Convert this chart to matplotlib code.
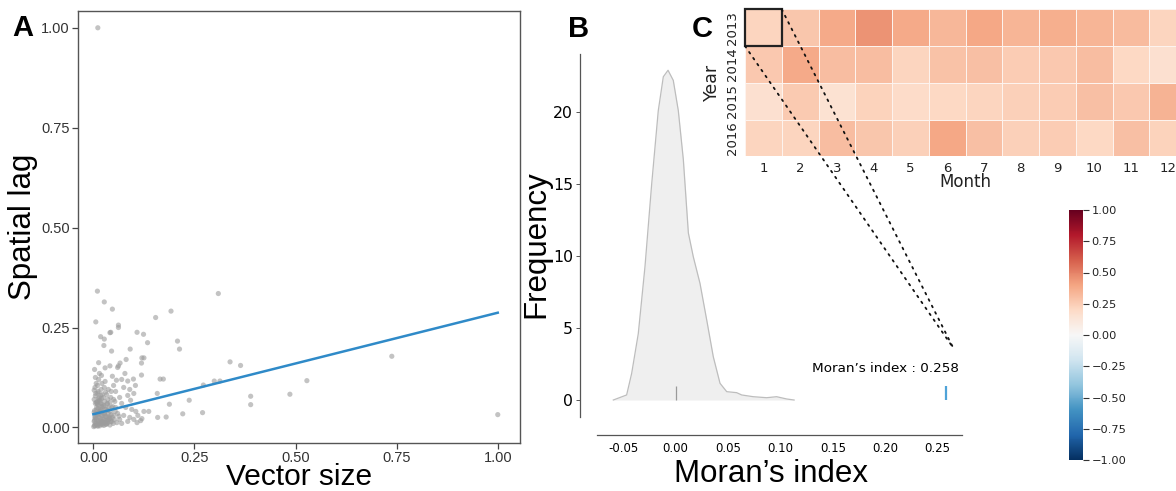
import numpy as np
import matplotlib
matplotlib.use("Agg")
import matplotlib.pyplot as plt
from matplotlib.patches import Rectangle, ConnectionPatch

plt.rcParams['font.family'] = ['DejaVu Sans']

# ---------------- Panel A data ----------------
scatter_x = [
    0.011, 0.010, 0.309, 0.027, 0.047, 0.192, 0.154, 0.006, 0.062, 0.062, 0.041, 0.043, 0.108, 0.124,
    0.018, 0.027, 0.208, 0.134, 0.026, 0.213, 0.091, 0.045, 0.013, 0.081, 0.066, 0.120, 0.125, 0.119,
    0.062, 0.060, 0.041, 0.029, 0.003, 0.738, 0.338, 0.364, 0.119, 0.165, 0.173, 0.299, 0.313, 0.528,
    0.272, 0.099, 0.085, 0.104, 0.158, 0.486, 0.389, 0.389, 0.237, 0.188, 0.270, 0.221, 0.159, 0.180,
    1.000, 0.125, 0.137, 0.117,
    0.070, 0.075, 0.090, 0.100, 0.085, 0.065, 0.055, 0.050, 0.070, 0.080, 0.095, 0.105, 0.110, 0.090,
    0.075, 0.060, 0.055, 0.100, 0.085, 0.065, 0.120, 0.108, 0.070, 0.050, 0.057, 0.078, 0.092, 0.047,
    0.003, 0.005, 0.002, 0.007, 0.004, 0.006, 0.003, 0.008, 0.005, 0.002, 0.006, 0.004, 0.007, 0.005,
    0.011, 0.013, 0.012, 0.014, 0.010, 0.015, 0.012, 0.013, 0.011, 0.014, 0.012, 0.010, 0.013, 0.015,
    0.019, 0.021, 0.018, 0.022, 0.020, 0.019, 0.021, 0.018, 0.020, 0.022, 0.019, 0.021, 0.020,
    0.026, 0.028, 0.025, 0.030, 0.027, 0.029, 0.026, 0.028, 0.025, 0.030, 0.027, 0.029,
    0.034, 0.036, 0.033, 0.037, 0.035, 0.038, 0.034, 0.036, 0.033, 0.037,
    0.041, 0.043, 0.040, 0.044, 0.042, 0.045, 0.041, 0.043, 0.044,
    0.049, 0.052, 0.050, 0.054, 0.048, 0.053,
    0.001, 0.004, 0.009, 0.016, 0.023, 0.003, 0.008, 0.014, 0.024, 0.031, 0.006, 0.017, 0.012, 0.027,
    0.002, 0.010, 0.021, 0.035, 0.046, 0.058, 0.063, 0.039, 0.032, 0.015,
    0.004, 0.009, 0.016, 0.022, 0.031, 0.038, 0.007, 0.013, 0.019, 0.028, 0.035, 0.042, 0.005, 0.011,
    0.017, 0.024, 0.032, 0.002, 0.008, 0.015, 0.021, 0.027, 0.036, 0.047, 0.012, 0.025, 0.018, 0.009,
]
scatter_y = [
    1.000, 0.341, 0.335, 0.314, 0.296, 0.291, 0.275, 0.264, 0.256, 0.250, 0.237, 0.238, 0.238, 0.233,
    0.227, 0.221, 0.216, 0.212, 0.205, 0.196, 0.196, 0.191, 0.162, 0.170, 0.161, 0.174, 0.174, 0.161,
    0.154, 0.150, 0.154, 0.149, 0.145, 0.178, 0.164, 0.155, 0.131, 0.121, 0.121, 0.116, 0.116, 0.117,
    0.106, 0.121, 0.116, 0.105, 0.085, 0.083, 0.078, 0.057, 0.068, 0.058, 0.037, 0.034, 0.025, 0.026,
    0.032, 0.040, 0.040, 0.017,
    0.120, 0.100, 0.095, 0.085, 0.080, 0.075, 0.090, 0.105, 0.060, 0.050, 0.045, 0.040, 0.030, 0.025,
    0.030, 0.035, 0.050, 0.020, 0.015, 0.020, 0.022, 0.012, 0.010, 0.070, 0.118, 0.135, 0.068, 0.128,
    0.005, 0.010, 0.015, 0.020, 0.028, 0.035, 0.042, 0.050, 0.060, 0.070, 0.085, 0.100, 0.110, 0.125,
    0.003, 0.012, 0.018, 0.025, 0.030, 0.040, 0.048, 0.055, 0.065, 0.075, 0.090, 0.105, 0.120, 0.135,
    0.008, 0.015, 0.022, 0.030, 0.038, 0.045, 0.052, 0.060, 0.072, 0.082, 0.095, 0.110, 0.130,
    0.005, 0.012, 0.020, 0.028, 0.035, 0.045, 0.055, 0.065, 0.075, 0.088, 0.100, 0.115,
    0.010, 0.018, 0.026, 0.034, 0.042, 0.050, 0.060, 0.070, 0.082, 0.095,
    0.006, 0.015, 0.024, 0.032, 0.040, 0.050, 0.062, 0.075, 0.090,
    0.010, 0.020, 0.030, 0.040, 0.052, 0.065,
    0.002, 0.004, 0.006, 0.004, 0.007, 0.018, 0.009, 0.011, 0.013, 0.008, 0.024, 0.016, 0.033, 0.017,
    0.038, 0.058, 0.027, 0.012, 0.015, 0.012, 0.028, 0.022, 0.046, 0.068,
    0.024, 0.033, 0.041, 0.057, 0.019, 0.027, 0.063, 0.072, 0.044, 0.036, 0.058, 0.021, 0.079, 0.086,
    0.066, 0.014, 0.008, 0.093, 0.044, 0.037, 0.009, 0.031, 0.017, 0.025, 0.006, 0.052, 0.081, 0.062,
]
fit_x = [0.0, 1.0]
fit_y = [0.033, 0.287]

# ---------------- Panel B data ----------------
kde_x = [-0.0595, -0.0468, -0.042, -0.0357, -0.0293, -0.0229, -0.0166, -0.0118, -0.0073, -0.0023,
         0.0025, 0.0073, 0.0121, 0.0168, 0.0232, 0.0296, 0.0359, 0.0423, 0.0487, 0.0582, 0.063,
         0.074, 0.0868, 0.0963, 0.106, 0.113]
kde_y = [0.0, 0.35, 1.85, 4.6, 9.26, 15.0, 20.1, 22.45, 22.9, 22.2,
         20.1, 16.7, 11.6, 9.95, 8.1, 5.56, 3.0, 1.16, 0.58, 0.51, 0.35,
         0.23, 0.16, 0.23, 0.07, 0.0]
null_mean = 0.0
observed_moran = 0.258
b_xticks = [-0.05, 0.00, 0.05, 0.10, 0.15, 0.20, 0.25]
b_yticks = [0, 5, 10, 15, 20]

# ---------------- Panel C data ----------------
years = ['2013', '2014', '2015', '2016']
months = [str(m) for m in range(1, 13)]
moran_monthly = np.array([
    [0.22, 0.28, 0.38, 0.45, 0.38, 0.33, 0.39, 0.34, 0.36, 0.34, 0.32, 0.22],
    [0.27, 0.38, 0.31, 0.31, 0.22, 0.29, 0.30, 0.25, 0.27, 0.31, 0.21, 0.16],
    [0.16, 0.26, 0.15, 0.23, 0.19, 0.21, 0.22, 0.24, 0.25, 0.30, 0.27, 0.35],
    [0.22, 0.22, 0.31, 0.28, 0.24, 0.39, 0.30, 0.24, 0.25, 0.21, 0.30, 0.23],
])
cbar_ticks = [-1.0, -0.75, -0.5, -0.25, 0.0, 0.25, 0.5, 0.75, 1.0]

W, H = 1176, 491
fig = plt.figure(figsize=(W / 100, H / 100), dpi=100)

def fx(px):
    return px / W

def fy(py):
    return 1 - py / H

# ---------------- Panel A ----------------
axA = fig.add_axes([fx(78), fy(443), fx(520) - fx(78), fy(11) - fy(443)])
axA.scatter(scatter_x, scatter_y, s=14, color='#9c9c9c', alpha=0.6, edgecolors='none')
axA.plot(fit_x, fit_y, color='#2f8ac8', lw=1.8)
axA.set_xlim(-0.038, 1.055)
axA.set_ylim(-0.039, 1.042)
axA.set_xticks([0, 0.25, 0.5, 0.75, 1.0])
axA.set_yticks([0, 0.25, 0.5, 0.75, 1.0])
axA.set_xticklabels(['0.00', '0.25', '0.50', '0.75', '1.00'])
axA.set_yticklabels(['0.00', '0.25', '0.50', '0.75', '1.00'])
for s in axA.spines.values():
    s.set_color('#555555')
    s.set_linewidth(1.0)
axA.tick_params(length=4, width=0.9, color='#444444', labelcolor='#333333', labelsize=10.5, pad=2)
for lab in axA.get_xticklabels() + axA.get_yticklabels():
    lab.set_family('Liberation Sans')
axA.set_xlabel('Vector size', fontsize=21.5, family='Liberation Sans', labelpad=-1.5)
axA.set_ylabel('Spatial lag', fontsize=22.5, family='Liberation Sans', labelpad=2)

# ---------------- Panel B ----------------
axB = fig.add_axes([fx(580), fy(435), fx(962) - fx(580), fy(54) - fy(435)])
axB.fill_between(kde_x, kde_y, 0, color='#efefef', lw=0)
axB.plot(kde_x, kde_y, color='#bdbdbd', lw=0.9)
axB.vlines(null_mean, 0, 0.97, color='#9a9a9a', lw=0.9)
axB.vlines(observed_moran, 0, 1.0, color='#4fa3d8', lw=1.6)
axB.text(0.2, 2.2, 'Moran\u2019s index : 0.258', ha='center', va='center', fontsize=9.7)
axB.set_xlim(-0.0913, 0.2732)
axB.set_ylim(-2.43, 24.03)
axB.spines['top'].set_visible(False)
axB.spines['right'].set_visible(False)
axB.spines['left'].set_bounds(-1.18, 24.03)
axB.spines['bottom'].set_bounds(-0.075, 0.2732)
for s in ('left', 'bottom'):
    axB.spines[s].set_color('#555555')
    axB.spines[s].set_linewidth(0.9)
axB.set_xticks(b_xticks)
axB.set_xticklabels(['-0.05', '0.00', '0.05', '0.10', '0.15', '0.20', '0.25'])
axB.set_yticks(b_yticks)
axB.tick_params(axis='y', length=3, width=0.7, color='#555555', labelsize=11.3, pad=2)
axB.tick_params(axis='x', length=0, labelsize=8.5, pad=5)
axB.set_xlabel('Moran\u2019s index', fontsize=22.5, family='Liberation Sans', labelpad=3)
axB.set_ylabel('Frequency', fontsize=22.5, family='Liberation Sans', labelpad=1)
axB.patch.set_alpha(0)

# ---------------- Panel C ----------------
cell = 36.75
axC = fig.add_axes([fx(745), fy(9.3 + 4 * cell), fx(745 + 12 * cell) - fx(745),
                    fy(9.3) - fy(9.3 + 4 * cell)])
mesh = axC.pcolormesh(np.arange(13), np.arange(5), moran_monthly, cmap='RdBu_r',
                      vmin=-1, vmax=1, edgecolors='#fdf3ee', linewidth=0.6)
axC.set_xlim(0, 12)
axC.set_ylim(4, 0)
axC.set_xticks(np.arange(12) + 0.5)
axC.set_xticklabels(months)
axC.set_yticks(np.arange(4) + 0.5)
axC.set_yticklabels(years, rotation=90, va='center')
axC.tick_params(length=0, labelsize=9.5, pad=4, labelcolor='#222222')
for s in axC.spines.values():
    s.set_visible(False)
axC.set_xlabel('Month', fontsize=12, labelpad=-1, color='#222222')
axC.set_ylabel('Year', fontsize=12.5, labelpad=4, color='#222222')
axC.add_patch(Rectangle((0, 0), 1, 1, fill=False, ec='#222222', lw=1.6, clip_on=False, zorder=5))

# connector lines
for corner in [(1, 0), (0, 1)]:
    con = ConnectionPatch(xyA=corner, coordsA=axC.transData,
                          xyB=(0.265, 3.6), coordsB=axB.transData,
                          color='#111111', lw=1.3, ls=(0, (1, 3)))
    fig.add_artist(con)

# colorbar
cax = fig.add_axes([fx(1069), fy(460), fx(1083) - fx(1069), fy(210) - fy(460)])
cb = fig.colorbar(mesh, cax=cax, ticks=cbar_ticks)
cb.outline.set_visible(False)
cb.ax.set_yticklabels([f'{t:.2f}'.replace('-', '\u2212') for t in cbar_ticks])
cb.ax.tick_params(length=4, width=0.8, labelsize=8.2, pad=2, color='#333333', labelcolor='#222222')

# panel letters
for letter, x, y in [('A', 12, 36), ('B', 568, 37), ('C', 692, 37)]:
    fig.text(fx(x), fy(y), letter, fontsize=21, fontweight='bold', family='Liberation Sans',
             ha='left', va='baseline')

fig.savefig('out.png', dpi=100)
